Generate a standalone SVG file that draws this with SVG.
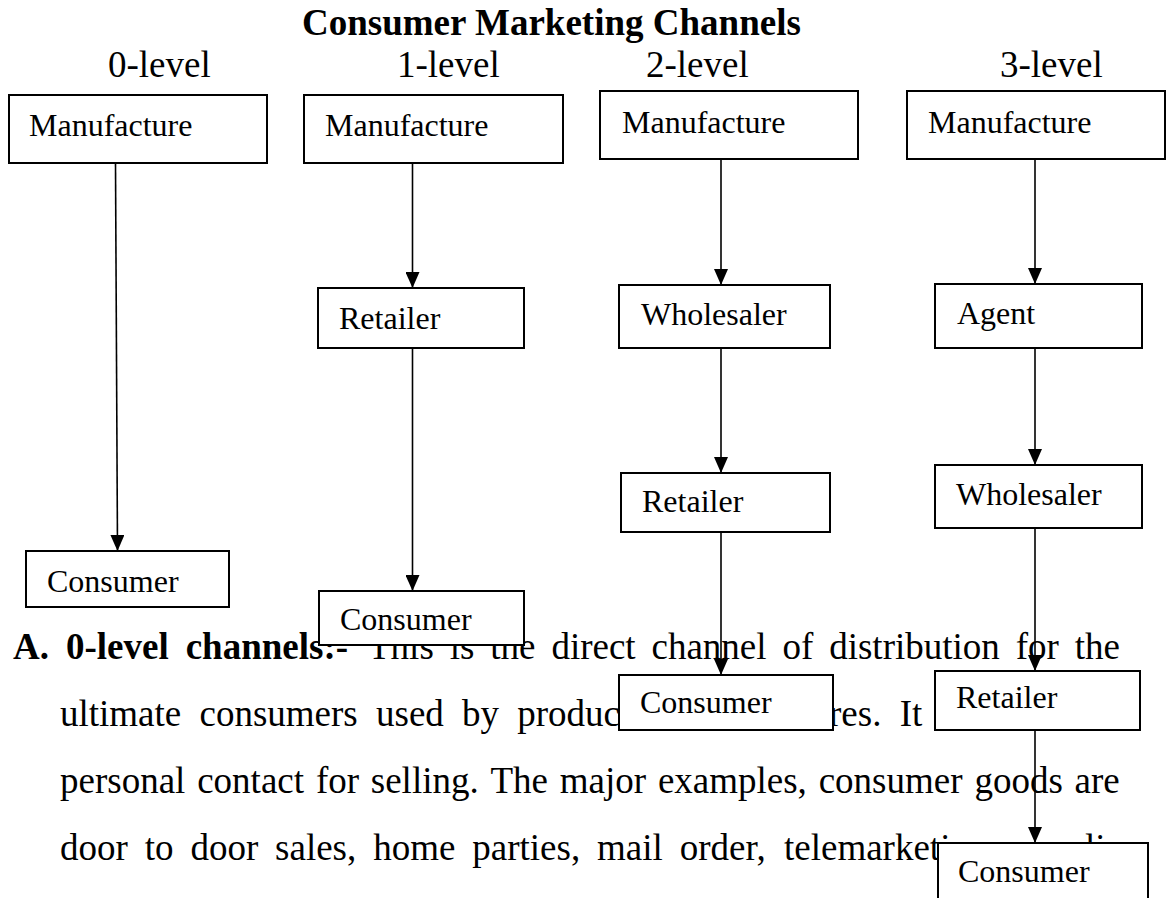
<svg xmlns="http://www.w3.org/2000/svg" width="1167" height="898" viewBox="0 0 1167 898">
<style>
.t{font-family:"Liberation Serif","Times New Roman",serif;fill:#000}
.title{font-size:37px;font-weight:bold}
.lvl{font-size:37px}
.body{font-size:37px}
.b{font-weight:bold}
.box{fill:#fff;stroke:#000;stroke-width:2}
.lbl{font-size:32px}
.conn{stroke:#000;stroke-width:1.6;fill:none;marker-end:url(#arrow)}
</style>
<defs>
<marker id="arrow" markerUnits="userSpaceOnUse" markerWidth="16" markerHeight="14" refX="16" refY="7" orient="auto">
<path d="M0,0 L16,7 L0,14 z" fill="#000"/>
</marker>
</defs>
<rect width="1167" height="898" fill="#fff"/>
<g id="title">
<text class="t title" x="302" y="35">Consumer Marketing Channels</text>
</g>
<g id="levels">
<text class="t lvl" x="108" y="77">0-level</text>
<text class="t lvl" x="397" y="77">1-level</text>
<text class="t lvl" x="646" y="77">2-level</text>
<text class="t lvl" x="1000" y="77">3-level</text>
</g>
<g id="paragraph" class="t body">
<text y="659"><tspan class="b" x="13">A.</tspan><tspan class="b" x="66">0-level</tspan><tspan class="b" x="185.7">channels:-</tspan><tspan x="368">This</tspan><tspan x="449.7">is</tspan><tspan x="490.3">the</tspan><tspan x="551.4">direct</tspan><tspan x="651.5">channel</tspan><tspan x="782.5">of</tspan><tspan x="829.2">distribution</tspan><tspan x="1015.7">for</tspan><tspan x="1074.7">the</tspan></text>
<text y="726"><tspan x="60">ultimate</tspan><tspan x="199.5">consumers</tspan><tspan x="376">used</tspan><tspan x="462">by</tspan><tspan x="517.3">produc</tspan><tspan x="829">res.</tspan><tspan x="899.7">It</tspan></text>
<text y="793"><tspan x="60">personal</tspan><tspan x="197.2">contact</tspan><tspan x="315.9">for</tspan><tspan x="370.8">selling.</tspan><tspan x="490.5">The</tspan><tspan x="559.8">major</tspan><tspan x="657.9">examples,</tspan><tspan x="818.7">consumer</tspan><tspan x="974.4">goods</tspan><tspan x="1074.6">are</tspan></text>
<text y="860"><tspan x="60">door</tspan><tspan x="144.7">to</tspan><tspan x="190.4">door</tspan><tspan x="275.1">sales,</tspan><tspan x="373.2">home</tspan><tspan x="472.3">parties,</tspan><tspan x="597.1">mail</tspan><tspan x="679.8">order,</tspan><tspan x="784">telemarketi</tspan><tspan x="1085">li</tspan></text>
</g>
<g id="connectors">
<line class="conn" x1="115.5" y1="163" x2="117.5" y2="551"/>
<line class="conn" x1="412.5" y1="163" x2="412.5" y2="288"/>
<line class="conn" x1="412.5" y1="348" x2="412.5" y2="591"/>
<line class="conn" x1="721" y1="159" x2="721" y2="285"/>
<line class="conn" x1="721" y1="348" x2="721" y2="473"/>
<line class="conn" x1="721" y1="532" x2="721" y2="675"/>
<line class="conn" x1="1035" y1="159" x2="1035" y2="284"/>
<line class="conn" x1="1035" y1="348" x2="1035" y2="465"/>
<line class="conn" x1="1035" y1="528" x2="1035" y2="671"/>
<line class="conn" x1="1035" y1="730" x2="1035" y2="843"/>
</g>
<g id="n0-manufacture"><rect class="box" x="9" y="95" width="258" height="68"/><text class="t lbl" x="29" y="136">Manufacture</text></g>
<g id="n0-consumer"><rect class="box" x="26" y="551" width="203" height="56"/><text class="t lbl" x="47" y="592">Consumer</text></g>
<g id="n1-manufacture"><rect class="box" x="304" y="95" width="259" height="68"/><text class="t lbl" x="325" y="136">Manufacture</text></g>
<g id="n1-retailer"><rect class="box" x="318" y="288" width="206" height="60"/><text class="t lbl" x="339" y="329">Retailer</text></g>
<g id="n1-consumer"><rect class="box" x="319" y="591" width="205" height="54"/><text class="t lbl" x="340" y="630">Consumer</text></g>
<g id="n2-manufacture"><rect class="box" x="600" y="91" width="258" height="68"/><text class="t lbl" x="622" y="133">Manufacture</text></g>
<g id="n2-wholesaler"><rect class="box" x="619" y="285" width="211" height="63"/><text class="t lbl" x="641" y="325">Wholesaler</text></g>
<g id="n2-retailer"><rect class="box" x="621" y="473" width="209" height="59"/><text class="t lbl" x="642" y="512">Retailer</text></g>
<g id="n2-consumer"><rect class="box" x="619" y="675" width="214" height="55"/><text class="t lbl" x="640" y="713">Consumer</text></g>
<g id="n3-manufacture"><rect class="box" x="907" y="91" width="258" height="68"/><text class="t lbl" x="928" y="133">Manufacture</text></g>
<g id="n3-agent"><rect class="box" x="935" y="284" width="207" height="64"/><text class="t lbl" x="957" y="324">Agent</text></g>
<g id="n3-wholesaler"><rect class="box" x="935" y="465" width="207" height="63"/><text class="t lbl" x="956" y="505">Wholesaler</text></g>
<g id="n3-retailer"><rect class="box" x="935" y="671" width="205" height="59"/><text class="t lbl" x="956" y="708">Retailer</text></g>
<g id="n3-consumer"><rect class="box" x="938" y="843" width="210" height="70"/><text class="t lbl" x="958" y="882">Consumer</text></g>
</svg>
